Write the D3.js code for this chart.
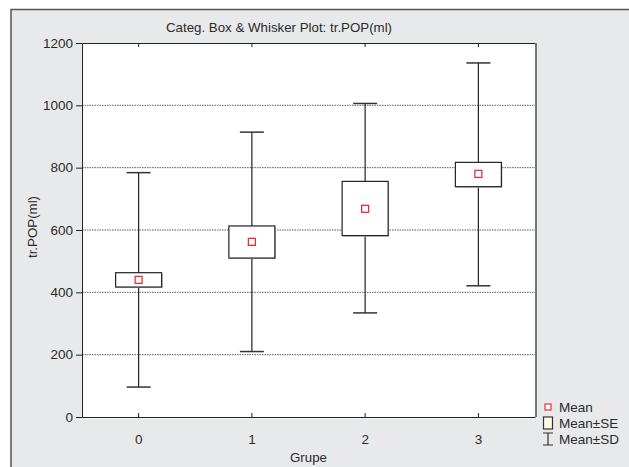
<!DOCTYPE html>
<html>
<head>
<meta charset="utf-8">
<script src="https://cdn.jsdelivr.net/npm/d3@7"></script>
<style>
  body { margin: 0; background: #fff; }
  svg text { font-family: "Liberation Sans", Arial, sans-serif; fill: #2a2a2a; }
</style>
</head>
<body>
<svg width="629" height="467"></svg>
<script>
var svg = d3.select("svg"),
    width = +svg.attr("width"),
    height = +svg.attr("height");

// Data
var groups = ["0", "1", "2", "3"];
var means = [440, 562, 668, 780];
var seLow = [417, 510, 582, 739];
var seHigh = [463, 613, 756, 817];
var sdLow = [96, 210, 334, 421];
var sdHigh = [784, 914, 1006, 1136];
var yTicks = [0, 200, 400, 600, 800, 1000, 1200];
var legendLabels = ["Mean", "Mean\u00b1SE", "Mean\u00b1SD"];

var margin = {top: 43, left: 82, right: 94, bottom: 50};
var plotW = width - margin.left - margin.right,
    plotH = height - margin.top - margin.bottom;

// Frame background
svg.append("rect")
    .attr("x", 11).attr("y", 9)
    .attr("width", width - 11).attr("height", height - 9)
    .attr("fill", "#e8e9eb");
svg.append("path")
    .attr("d", "M11," + height + "V9.5H" + width)
    .attr("fill", "none")
    .attr("stroke", "#555")
    .attr("stroke-width", 1.5);

var x = d3.scaleBand()
    .domain(groups)
    .range([0, plotW]);
var y = d3.scaleLinear()
    .domain([0, 1200])
    .range([plotH, 0]);

var g = svg.append("g")
    .attr("transform", "translate(" + margin.left + "," + margin.top + ")");

// Plot area with a small shadow
g.append("rect")
    .attr("x", 2).attr("y", 2)
    .attr("width", plotW).attr("height", plotH)
    .attr("fill", "#f4f4f4");
g.append("rect")
    .attr("width", plotW).attr("height", plotH)
    .attr("fill", "#fff");

// Grid lines
g.append("g")
    .selectAll("line")
    .data(yTicks.filter(function (d) { return d > 0 && d < 1200; }))
    .enter().append("line")
        .attr("x1", 0).attr("x2", plotW)
        .attr("y1", function (d) { return y(d); })
        .attr("y2", function (d) { return y(d); })
        .attr("stroke", "#333")
        .attr("stroke-width", 0.8)
        .attr("stroke-dasharray", "1.5,1");

// Axes
var yAxis = d3.axisLeft(y).tickValues(yTicks).tickFormat(d3.format("d")).tickSize(6).tickPadding(3);
var ya = g.append("g").call(yAxis);
ya.selectAll("text").style("font-size", "13.5px");

var xAxis = d3.axisBottom(x).tickSizeInner(-4).tickSizeOuter(0).tickPadding(17);
var xa = g.append("g").attr("transform", "translate(0," + plotH + ")").call(xAxis);
xa.selectAll("text").style("font-size", "13.5px");

var xTop = d3.axisTop(x).tickSizeInner(-4).tickSizeOuter(0).tickFormat("");
g.append("g").call(xTop);

g.selectAll(".domain").attr("stroke", "#222");
g.selectAll(".tick line").attr("stroke", "#222");

// Plot border
g.append("line").attr("x1", plotW + 1).attr("x2", plotW + 1).attr("y1", 0).attr("y2", plotH)
    .attr("stroke", "#777").attr("stroke-width", 2);

// Whiskers (mean ± SD)
var capW = 24, boxW = 46;
var box = g.selectAll(".grp")
    .data(groups)
    .enter().append("g")
        .attr("class", "grp")
        .attr("transform", function (d) { return "translate(" + (x(d) + x.bandwidth() / 2) + ",0)"; });

box.append("line")
    .attr("y1", function (d, i) { return y(sdLow[i]); })
    .attr("y2", function (d, i) { return y(sdHigh[i]); })
    .attr("stroke", "#222").attr("stroke-width", 1.2);
box.append("line")
    .attr("x1", -capW / 2).attr("x2", capW / 2)
    .attr("y1", function (d, i) { return y(sdHigh[i]); })
    .attr("y2", function (d, i) { return y(sdHigh[i]); })
    .attr("stroke", "#333").attr("stroke-width", 1.5);
box.append("line")
    .attr("x1", -capW / 2).attr("x2", capW / 2)
    .attr("y1", function (d, i) { return y(sdLow[i]); })
    .attr("y2", function (d, i) { return y(sdLow[i]); })
    .attr("stroke", "#333").attr("stroke-width", 1.5);

// Boxes (mean ± SE)
box.append("rect")
    .attr("x", -boxW / 2 + 1)
    .attr("y", function (d, i) { return y(seHigh[i]) + 1; })
    .attr("width", boxW)
    .attr("height", function (d, i) { return y(seLow[i]) - y(seHigh[i]); })
    .attr("fill", "#bbb");
box.append("rect")
    .attr("x", -boxW / 2)
    .attr("y", function (d, i) { return y(seHigh[i]); })
    .attr("width", boxW)
    .attr("height", function (d, i) { return y(seLow[i]) - y(seHigh[i]); })
    .attr("fill", "#fff")
    .attr("stroke", "#222").attr("stroke-width", 1.2);

// Mean markers
box.append("rect")
    .attr("x", -3.5)
    .attr("y", function (d, i) { return y(means[i]) - 3.5; })
    .attr("width", 7).attr("height", 7)
    .attr("fill", "#fff")
    .attr("stroke", "#e8303a").attr("stroke-width", 1.3);

// Titles
svg.append("text")
    .attr("x", 279).attr("y", 32)
    .attr("text-anchor", "middle")
    .style("font-size", "13.3px")
    .text("Categ. Box & Whisker Plot: tr.POP(ml)");
svg.append("text")
    .attr("transform", "translate(37," + (margin.top + plotH / 2 - 3) + ") rotate(-90)")
    .attr("text-anchor", "middle")
    .style("font-size", "13.3px")
    .text("tr.POP(ml)");
svg.append("text")
    .attr("x", margin.left + plotW / 2).attr("y", 462)
    .attr("text-anchor", "middle")
    .style("font-size", "13.3px")
    .text("Grupe");

// Legend
var lg = svg.append("g").attr("transform", "translate(548,407)");
var items = lg.selectAll("g")
    .data(legendLabels)
    .enter().append("g")
        .attr("transform", function (d, i) { return "translate(0," + i * 16 + ")"; });
items.append("text")
    .attr("x", 11).attr("dy", "0.35em")
    .style("font-size", "13.5px")
    .text(function (d) { return d; });
lg.append("rect").attr("x", -3).attr("y", -3).attr("width", 6).attr("height", 6)
    .attr("fill", "#fff").attr("stroke", "#e8303a").attr("stroke-width", 1.2);
lg.append("rect").attr("x", -4.5).attr("y", 10).attr("width", 9).attr("height", 12)
    .attr("fill", "#fdf8e6").attr("stroke", "#333").attr("stroke-width", 1.2);
lg.append("path").attr("d", "M-5,26H5M0,26V38M-5,38H5")
    .attr("fill", "none").attr("stroke", "#333").attr("stroke-width", 1.2);
</script>
</body>
</html>
